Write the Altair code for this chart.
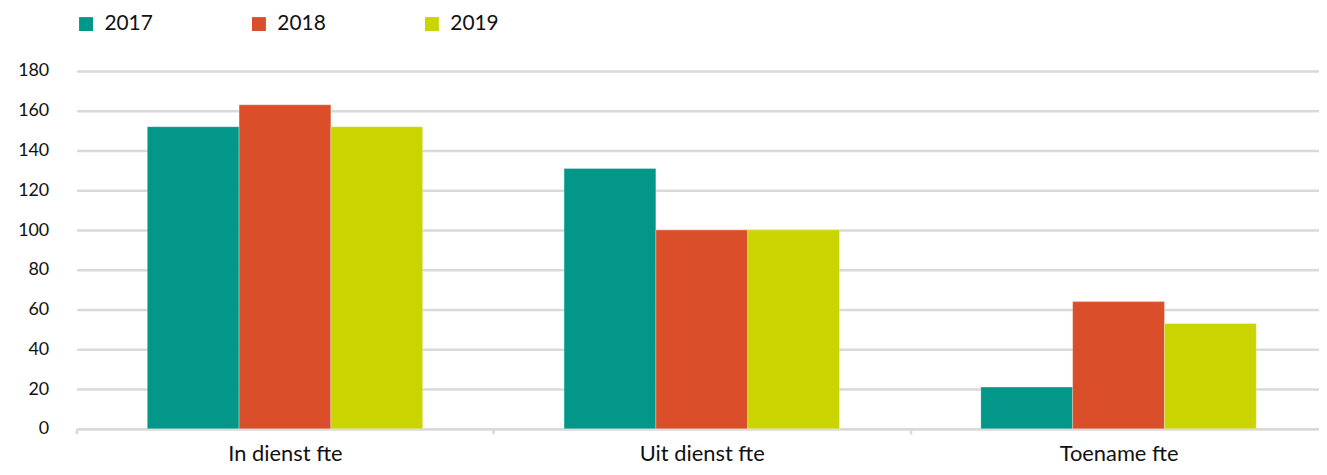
import altair as alt
import pandas as pd

categories = ["In dienst fte", "Uit dienst fte", "Toename fte"]
years = ["2017", "2018", "2019"]
v2017 = [152, 131, 21]
v2018 = [163, 100, 64]
v2019 = [152, 100, 53]
colors = ["#03978A", "#DA4E2A", "#C9D400"]

rows = []
for i, c in enumerate(categories):
    for y, vals in zip(years, [v2017, v2018, v2019]):
        rows.append({"cat": c, "year": y, "value": vals[i]})
df = pd.DataFrame(rows)

font = "Lato"
grey = "#d9d9d9"

chart = alt.Chart(df).mark_bar(stroke="white", strokeWidth=0.5, strokeOpacity=0.6).encode(
    x=alt.X("cat:N", sort=categories, title=None,
            scale=alt.Scale(paddingInner=0, paddingOuter=0, range=[0, 1258]),
            axis=alt.Axis(labelAngle=0, labelFont=font, labelFontSize=22, labelColor="#111111",
                          domainColor=grey, domainWidth=2.5, tickColor=grey, tickWidth=2.5,
                          tickSize=5, tickBand="extent", labelBaseline="alphabetic",
                          labelPadding=27, grid=False)),
    xOffset=alt.XOffset("year:N", sort=years,
                        scale=alt.Scale(paddingInner=0, paddingOuter=0.77)),
    y=alt.Y("value:Q", title=None,
            scale=alt.Scale(domain=[0, 180], nice=False),
            axis=alt.Axis(values=list(range(0, 181, 20)), labelFont=font, labelFontSize=18,
                          labelColor="#111111", domain=False, ticks=False, labelPadding=28,
                          gridColor=grey, gridWidth=2.5)),
    color=alt.Color("year:N", sort=years, scale=alt.Scale(domain=years, range=colors),
                    legend=alt.Legend(title=None, orient="none", legendX=-1, legendY=-58,
                                      direction="horizontal", columns=3, symbolType="square",
                                      symbolSize=196, symbolStrokeWidth=0, labelFont=font,
                                      labelFontSize=21, labelColor="#111111", columnPadding=96,
                                      labelOffset=8)),
).properties(
    width=1250, height=360,
    autosize=alt.AutoSizeParams(type="none"),
    padding={"left": 69, "top": 62, "right": 0, "bottom": 37},
).configure_view(stroke=None)

chart.save("out.html", embed_options={"renderer": "svg", "actions": False})
